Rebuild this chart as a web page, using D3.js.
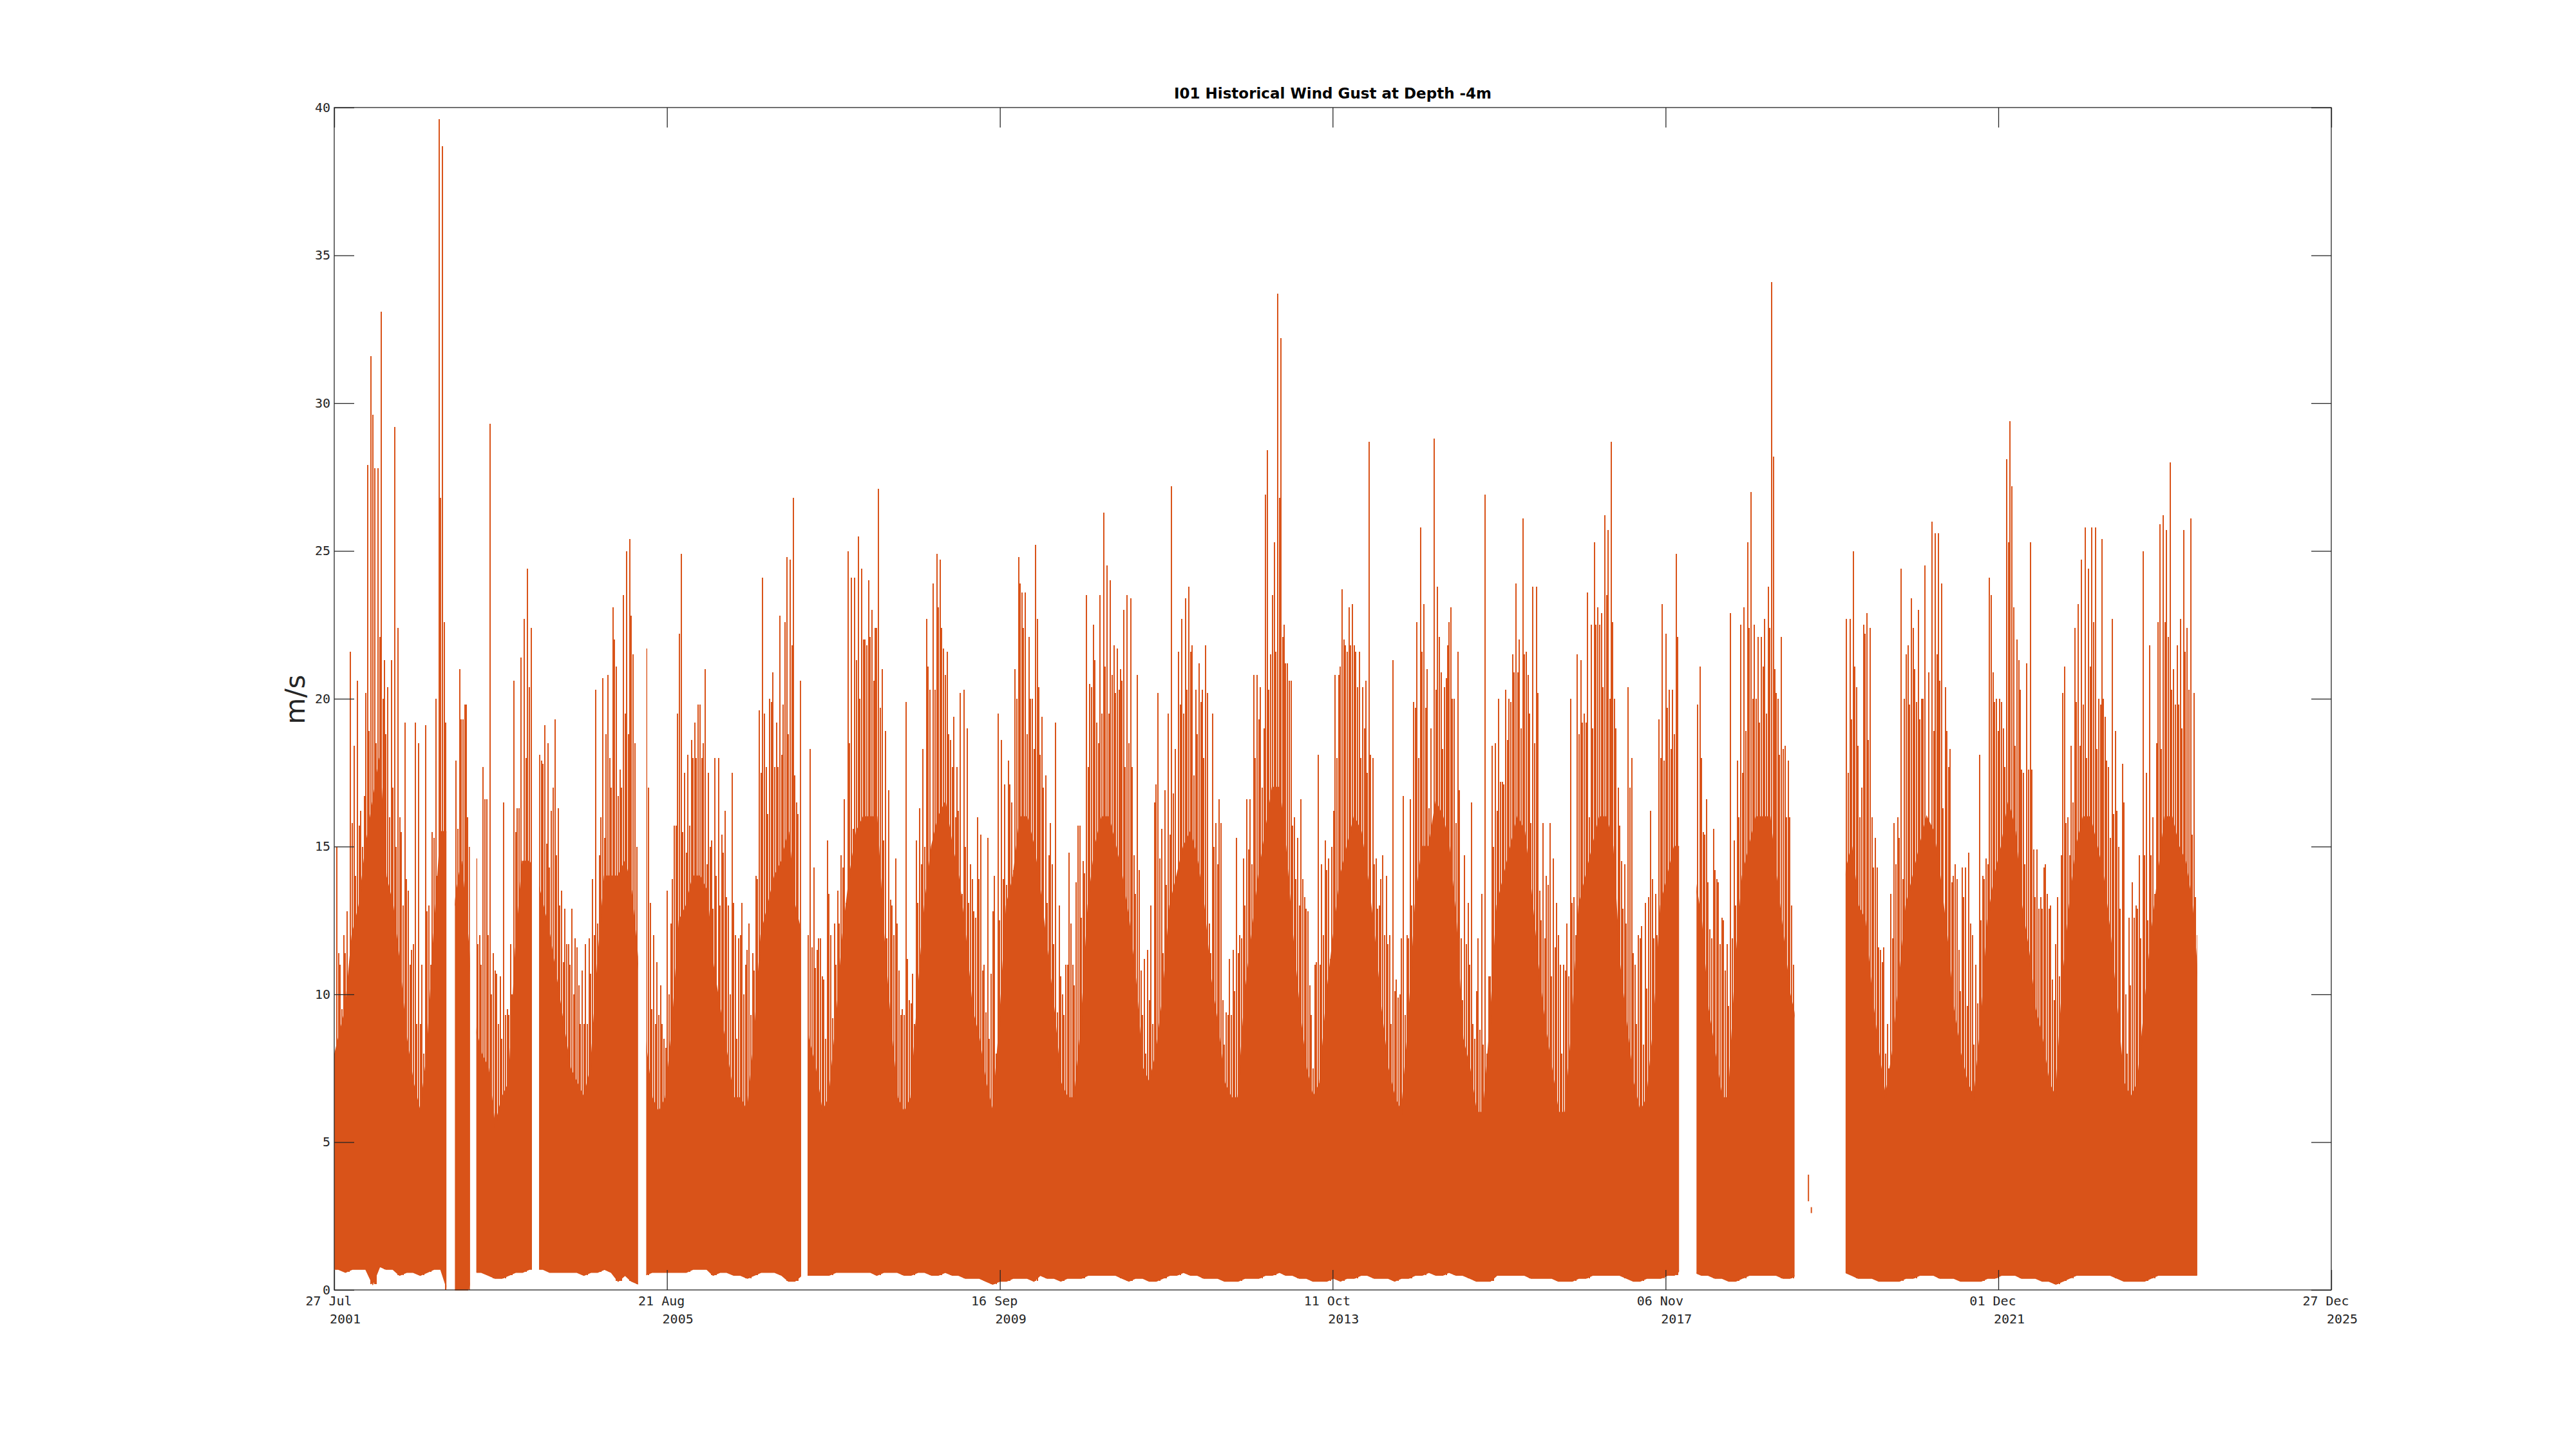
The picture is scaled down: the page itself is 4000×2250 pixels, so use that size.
<!DOCTYPE html>
<html>
<head>
<meta charset="utf-8">
<script src="https://cdn.jsdelivr.net/npm/d3@7"></script>
<style>
  body { margin: 0; background: #fff; }
  svg { display: block; }
</style>
</head>
<body>
<svg id="chart" width="4000" height="2250"></svg>
<script>
// monthly summaries, one entry per month from Jul 2001 to May 2024
// pkA / pkC / pkB / pkD = tallest gust around day 8 / 15 / 23 / 30 of the month,
// body = top of the dense band, low = bottom of the band (m/s)
const firstYear = 2001, firstMonth = 6; // July 2001

const pkA = [
  null, 15, 12, 21.6, 20.6, 16.7,
  31.6, 27.8, 21.3, 21.3, 22.4, 19.2, 11.5, 18.5, 19.1, 15.5, 39.6, 19.2,
  null, 21, 19.8, null, 12, 16.6, 11.4, 10.6, 9.5, 20.6, 21.4, 24.4,
  null, 17.9, 18.5, 19.3, 13.5, 11.7, 11.9, 10.8, 11.9, 20.3, 20.7, 18,
  21.1, 23.5, 25.4, 15, null, 13.1, 11.1, 8.5, 12.4, 19.5, 17.5, 18.6,
  19.8, 21, 15.2, 18, 16.2, 17.5, 11.9, 11, 11.4, 19.6, 17.7, 20.9,
  22.8, 24.8, 26.8, 20.6, null, 14.3, 11.9, 15.2, 12.4, 14.7, 25, 24.1,
  24.4, 24, 22.4, 21, 16.9, 14.6, 9.5, 9.8, 15.2, 18.3, 20.3, 24.9,
  21.7, 18.6, 17.7, 20.3, 14.4, 16, 11, 10.7, 19.5, 17.1, 16.5, 24.8,
  23.6, 20, 20.4, 17.4, 14.4, 13, 11, 11, 15.7, 23.5, 22.5, 23.5,
  24.5, 21.8, 21, 23.5, 14.7, 10.8, 11.5, 16.5, 15.6, 19.5, 18.3, 22.7,
  23.8, 20.3, 20.3, 12.4, 15.8, 9.8, 11.2, 15.3, 14.6, 16.6, 20.8, 19,
  21.5, 33.7, 22.5, 20.6, 15.3, 13.3, 9.3, 18.1, 15.2, 15, 20.8, 21.8,
  23.2, 21.6, 20.6, 18, 13, 14, 21.3, 10, 12, 19.9, 25.8, 21,
  28.8, 20.9, 21.8, 20, 11.9, 13.1, 8.5, 13.4, 10.6, 18.5, 17.2, 20,
  23.9, 26.1, 19.5, 23.8, 15.8, 15.8, 13.1, 11, 20, 21.5, 19.5, 22.5,
  23.1, 26.2, 28.7, 17, 14.4, 18, 12, 13.1, 13.9, 19.3, 22.2, 20.3,
  null, null, null, 21.1, 16.6, 15.6, 11.7, 11.7, 15.2, 22.5, 25.3, 22.5,
  22.1, 23.8, 21, 22.1, 17.9, 11, null, null, null, null, null, null,
  null, 22.7, 20.4, 22.5, 22.4, 14.3, 11.6, 13.4, 16, 20, 23.4, 23,
  24.5, 26, 25.6, 20.4, 13.8, 11.5, 14.3, 12, 18.1, 14.6, 20.9, 20,
  28.1, 23.1, 20.3, 21.2, 14.9, 13.3, 13.4, 9.8, 14.7, 16, 22.4, 24.7,
  24.4, 25.8, 25.4, 17.7, 18.9, 17.8, 12.6, 13, 25, 21.8, 18.5, 26.2,
  28, 21.8, 25.7, 26.1, 12
];

const pkC = [
  null, 11.4, 11.4, 15.8, 15.7, 20.2,
  29.6, 22.1, 18.8, 17, 16, 13.9, 11.7, 9, 12.8, 15.3, 26.8, null,
  null, 19.3, 16, null, 11, 12, 10.8, 8.5, 9.3, 15.5, 14.4, 20.4,
  null, 17.8, 14.3, 14.7, 11.1, 11, 11.6, 9, 10.7, 12.4, 15.3, 17,
  16.7, 19.5, 22.8, null, null, 9.5, 9.3, 8.2, 13.9, 22.2, 14.8, 18,
  19.8, 14.4, 12.9, 13, 13.3, 13.1, 12, 11.5, 10.8, 17.5, 16.1, 17.7,
  18.1, 18.8, 17.4, null, 12, 10.9, 10.6, 13.4, 11, 14.3, 18.5, 21.3,
  22, 22.1, 22.4, 15.2, 13.2, 12.4, 9.3, 9.7, 13.1, 15, 14.2, 23.1,
  20.8, 17.7, 16.2, 15, 13.9, 13.9, 9.4, 12.8, 12.5, 13.7, 14.2, 23.9,
  18.8, 18.3, 18.1, 13.1, 11.7, 10.6, 11, 10.3, 12.6, 17.7, 21.3, 19.5,
  19.5, 20.2, 20.6, 18.5, 13.4, 9.3, 9.8, 17.1, 11.4, 15.4, 12.9, 19.5,
  21.6, 18.8, 18, 11.4, 14.4, 8.3, 9.3, 11.4, 13, 14.4, 19.3, 26.9,
  23.5, 26.8, 21.2, 15.7, 13, 12.9, 7.5, 11, 14.2, 16.2, 21.1, 21.6,
  21.8, 18, 17.5, 14.4, 13.9, 11.7, 10.1, 11.9, 11.9, 19.7, 21.6, 16.3,
  20.3, 18.3, 22.6, 15.8, 9.8, 11, 10.1, 8.3, 10.6, 16.2, 17.1, 19.9,
  20.9, 21.5, 15.8, 20.2, 11.9, 10.6, 12, 10.8, 13.1, 18.8, 19.2, 19,
  22.5, 23.5, 22.6, 15.7, 12.4, 11.4, 11.9, 10.2, 11.9, 18, 19.7, 18.8,
  null, null, null, 18, 13.8, 14.2, 12.6, 9.6, 13, 17.5, 22.4, 20,
  21.1, 22.4, 20.2, 18.3, 16, null, null, null, null, null, null, null,
  null, 19.3, 18.4, 22.2, 16, 11.6, 8, 11.9, 15.3, 21.5, 22.4, 19.3,
  14.2, 18.9, 20.6, 18.9, 14, 10.1, 9.6, 8.3, 12.5, 14.4, 19.9, 19.9,
  25.3, 18.4, 17.6, 17.6, 13.3, 12.9, 12.9, 11.7, 20.2, 14.7, 19.9, 19.8,
  21.1, 18.3, 20, 15.3, 16.2, 16.5, 10.3, 12.9, 14.7, 14.7, 22.6, 22.6,
  20.3, 19.8, 21.6, 15.4, null
];

const pkB = [
  null, 11, 12.8, 18.4, 16.2, 27.9,
  27.8, 33.1, 20.4, 29.2, 15.5, 13.5, 19.2, 11, 13, 20, 38.7, null,
  17.9, 19.3, 15, 14.6, 17.7, 29.3, 10.7, 16.5, 11.7, 16.3, 22.7, 22.4,
  null, 19.1, 16.2, 16.3, 12.9, 12.9, 10.3, 11.7, 13.9, 14.7, 18.8, 23.1,
  17.6, 25, 21.5, null, 21.7, 12, 10.3, 13.5, 15.7, 24.9, 18.1, 19.2,
  18, 17.5, 18, 15.4, 13, 12, 13.1, 12.4, 14, 24.1, 20, 19.2,
  19.8, 24.7, 16.5, null, 18.3, 11.5, 10.5, 12, 13.5, 16.6, 24.1, 25.5,
  22, 23, 27.1, 18.9, 13, 10.8, 19.9, 10.7, 16.3, 22.7, 23.9, 24.7,
  21.6, 19.4, 20.2, 19, 12.8, 15.4, 15.3, 14, 18.6, 17.9, 21, 23.6,
  22.1, 25.2, 19.4, 14.7, 19.2, 10, 14.8, 13.8, 14.5, 20.5, 19.2, 26.3,
  24, 21.7, 23, 23.4, 20.8, 11.2, 13, 20.2, 16.9, 27.2, 21.6, 23.4,
  21.8, 21.2, 21.8, 19.5, 16.6, 9.4, 11.5, 12, 16.6, 20.8, 20.4, 28.4,
  25.3, 32.2, 21.2, 16, 16.6, 12.8, 11, 14.4, 14.6, 20.8, 23.7, 23.1,
  21.6, 20.4, 28.7, 14.6, 14.7, 12, 10.5, 16.7, 16.6, 22.6, 23.2, 19,
  23.8, 20.4, 23.1, 21.6, 14.7, 16.5, 11.9, 26.9, 18.4, 20, 20.3, 21.5,
  22, 21.6, 23.8, 13.5, 14, 14.6, 11, 12.4, 13.3, 21.3, 23.6, 25.3,
  22.9, 25.7, 20, 14.5, 20.4, 11, 12.3, 13.3, 13.4, 23.2, 20.3, 24.9,
  null, null, null, 15.5, 12.2, 13.9, 12.5, 22.9, 17.9, 23.1, 27, 22.1,
  22.7, 34.1, 20, 18.4, 13, null, null, null, null, null, null, null,
  22.7, 25, 16, 22.9, 14.3, 11.5, 9, 15.8, 24.4, 21.8, 21, 20,
  20.9, 25.6, 23.9, 17.7, 14.4, 14.3, 14.8, 11, 14, 24.1, 20, 19,
  29.4, 22, 17.5, 25.3, 14.9, 14.3, 13, 13.3, 21.1, 18.4, 23.2, 25.8,
  25.8, 20, 19.4, 22.7, 15, 10, 13.8, 14.7, 17.5, 16, 25.9, 25.7,
  21, 22.7, 22.4, 20.2, null
];

const pkD = [
  null, 9.5, 10.5, 14, 15, 18.9,
  18.5, 20, 16, 15, 13, 11, 9, 8, 11, 14, 22.6, null,
  15.6, 19.8, null, 11.7, 16.6, 10, 9, 9.3, 10, 16.3, 18, 18.1,
  18.1, 15.1, 17, 13, 11.7, 10, 9, 9, 12, 16, 20.8, 22,
  17, 18.8, 18.5, null, 17, 9, 9, 10, 15.7, 15.5, 15.7, 18,
  18.5, 15, 14, 14.8, 10, 8.5, 10, 9.3, 13.9, 19.5, 19.9, 17.7,
  22.6, 21.8, 16.1, null, 11.6, 11.9, 8.5, 9.2, 12.4, 13.1, 15.6, 20,
  21.8, 20.6, 19.7, 11.9, 12, 9.3, 11.2, 9, 14.4, 21.1, 20.3, 22.4,
  18.8, 16, 13.4, 13.1, 12.6, 10.8, 8.5, 8, 13.9, 17.1, 20, 22.4,
  20, 22.7, 17, 15.8, 9.4, 9.3, 12.4, 15.7, 14.1, 20.4, 18.5, 21.1,
  20.8, 20.3, 17.7, 17.7, 14.2, 8, 9, 14.6, 13.7, 16.8, 19.8, 20.3,
  17.4, 19.9, 20.2, 15, 15.8, 9.3, 10.1, 11.9, 14.9, 18, 17, 20.3,
  21.6, 22.1, 20.6, 13.9, 13.9, 10.3, 11.1, 12, 11.2, 18, 22, 21.8,
  20.4, 19, 18.1, 12.9, 12, 9, 9.9, 9.3, 13, 18, 19.7, 15.4,
  22.1, 20.7, 20, 16.9, 11.7, 9, 8.8, 8, 15, 17.2, 18.6, 20.9,
  19, 20.8, 18.5, 12.5, 13.7, 11.6, 8, 10.6, 12, 19.2, 16, 22.5,
  20.4, 20, 19, 12.9, 17, 9, 8.3, 16.2, 12, 17.9, 18.3, 22.1,
  null, null, 19.8, 15.4, 11.9, 13.8, 10.8, 11.9, 16, 18.9, 20, 19.2,
  19.5, 28.2, 18.1, 16, 11, null, null, null, null, null, null, null,
  17.5, 21.1, 17, 18.6, 15.3, 11.1, 7.5, 14.4, 13.9, 19.8, 19.9, 20,
  14.2, 21.5, 16.3, 18.3, 13.9, 13.3, 12.4, 9.7, 13.9, 23.5, 18.9, 17.7,
  27.2, 21.3, 14.4, 17.6, 12.9, 14.4, 10.5, 10.6, 15.8, 16.5, 18.4, 18,
  22.6, 19.8, 17.9, 16.1, 12.9, 8, 12.6, 11.9, 12.5, 13.4, 18.3, 22.1,
  19.8, 19, 20.3, 13.3, null
];

const body = [
  7.5, 8.5, 9.5, 12, 13, 15,
  16.5, 18, 14, 13, 11, 8.5, 7, 6, 8, 12, 15.5, 15.5,
  13, 14.5, 12, 9, 8, 7.5, 5.5, 6.5, 7, 11.5, 14.5, 14.5,
  14, 13, 12, 10.5, 9, 7.5, 7, 6.5, 7.5, 11, 14, 14,
  14, 14.5, 13.5, 11, 8.5, 6.5, 6, 6.5, 9, 12.5, 13, 14,
  14, 13.5, 11, 9.5, 8, 6.5, 6.5, 6, 8.5, 12, 13, 14,
  14.5, 15.5, 13, 12, 8.5, 7.5, 6, 6.5, 9, 12, 14, 15.5,
  16, 16, 16, 12, 9, 6.5, 6, 6.5, 10, 13, 15, 16,
  16.5, 15, 14, 12, 9.5, 8.5, 7, 6, 9, 13, 14, 16,
  16, 15, 13.5, 11.5, 9.5, 7, 6.5, 6.5, 9, 13, 15, 16,
  16, 15, 14, 12.5, 10.5, 7.5, 7, 8, 10, 13, 14, 15,
  15.5, 14.5, 13, 10.5, 9, 7, 6.5, 6.5, 10, 12, 14, 15.5,
  17, 17, 15, 12, 9.5, 7.5, 6.5, 7, 10, 12, 14, 15,
  16, 15.5, 14, 12, 9.5, 7.5, 6.5, 6, 9, 13, 15, 15,
  16.5, 16, 15, 12.5, 8.5, 7.5, 6, 6, 9, 13, 14, 15,
  16, 15.5, 13.5, 11, 9, 7.5, 6, 6, 9, 13, 14, 15,
  16, 16, 15, 11, 9, 7, 6, 6.5, 9, 13, 14, 15,
  15, 14, 14, 12.5, 9.5, 8, 6.5, 6.5, 11, 14, 15, 16,
  16, 16, 14, 12, 10, 9, null, null, null, null, null, null,
  14, 15, 13, 12.5, 10, 8, 6.5, 8, 10.5, 13, 14, 15,
  16, 15.5, 14, 12, 9.5, 8, 7, 6.5, 9, 12.5, 14, 15,
  16.5, 15.5, 13, 11.5, 9.5, 8.5, 7, 6.5, 10.5, 13, 15, 16,
  16, 15, 14, 12, 9.5, 7, 6.5, 7, 9.5, 12, 14, 16,
  16, 15, 14.5, 13, 10
];

const low = [
  0.7, 0.7, 0.6, 0.7, 0.7, 0.7,
  0.2, 0.8, 0.7, 0.7, 0.5, 0.6, 0.6, 0.5, 0.6, 0.7, 0.7, 0,
  0, 0, 0, 0.6, 0.6, 0.5, 0.4, 0.4, 0.5, 0.6, 0.6, 0.7,
  0.7, 0.7, 0.6, 0.6, 0.6, 0.6, 0.6, 0.5, 0.6, 0.6, 0.7, 0.6,
  0.3, 0.5, 0.3, 0.2, 0.5, 0.6, 0.6, 0.6, 0.6, 0.6, 0.6, 0.7,
  0.7, 0.7, 0.5, 0.6, 0.6, 0.5, 0.5, 0.4, 0.5, 0.6, 0.6, 0.6,
  0.5, 0.3, 0.3, 0.5, 0.5, 0.5, 0.5, 0.5, 0.6, 0.6, 0.6, 0.6,
  0.6, 0.6, 0.5, 0.6, 0.6, 0.6, 0.5, 0.5, 0.6, 0.6, 0.5, 0.5,
  0.6, 0.5, 0.5, 0.4, 0.4, 0.4, 0.3, 0.2, 0.3, 0.3, 0.4, 0.4,
  0.4, 0.3, 0.5, 0.4, 0.4, 0.3, 0.4, 0.4, 0.4, 0.5, 0.5, 0.5,
  0.5, 0.5, 0.4, 0.3, 0.4, 0.4, 0.3, 0.3, 0.4, 0.5, 0.5, 0.6,
  0.5, 0.5, 0.4, 0.4, 0.4, 0.3, 0.3, 0.3, 0.4, 0.4, 0.4, 0.5,
  0.5, 0.6, 0.5, 0.5, 0.4, 0.4, 0.3, 0.3, 0.3, 0.4, 0.3, 0.4,
  0.4, 0.5, 0.5, 0.4, 0.4, 0.4, 0.3, 0.4, 0.4, 0.5, 0.5, 0.6,
  0.5, 0.5, 0.6, 0.5, 0.5, 0.4, 0.3, 0.3, 0.3, 0.5, 0.5, 0.5,
  0.5, 0.5, 0.4, 0.4, 0.4, 0.4, 0.3, 0.3, 0.3, 0.4, 0.4, 0.5,
  0.5, 0.5, 0.5, 0.5, 0.4, 0.3, 0.3, 0.4, 0.4, 0.4, 0.5, 0.5,
  0.7, 0.6, 0.6, 0.5, 0.5, 0.4, 0.4, 0.3, 0.3, 0.4, 0.5, 0.5,
  0.5, 0.5, 0.5, 0.4, 0.4, 0.5, null, null, null, null, null, null,
  0.6, 0.5, 0.4, 0.4, 0.4, 0.3, 0.3, 0.3, 0.3, 0.4, 0.4, 0.5,
  0.5, 0.5, 0.4, 0.4, 0.4, 0.3, 0.3, 0.3, 0.3, 0.4, 0.4, 0.5,
  0.5, 0.5, 0.4, 0.4, 0.4, 0.3, 0.3, 0.2, 0.3, 0.4, 0.5, 0.5,
  0.5, 0.5, 0.5, 0.5, 0.4, 0.3, 0.3, 0.3, 0.3, 0.4, 0.5, 0.5,
  0.5, 0.5, 0.5, 0.5, 0.5
];

// periods with recorded data (gaps in between are empty)
const segments = [
  ["2001-07-27", "2002-12-10"],
  ["2003-01-17", "2003-03-25"],
  ["2003-04-23", "2003-12-27"],
  ["2004-01-28", "2005-04-14"],
  ["2005-05-21", "2007-04-12"],
  ["2007-05-11", "2018-01-05"],
  ["2018-03-24", "2019-06-05"],
  ["2020-01-19", "2024-05-07"]
];

// stray readings inside the 2019 gap
const strayDates = ["2019-08-06", "2019-08-19"];
const strayLow = [3.0, 2.6];
const strayHigh = [3.9, 2.8];

const tickDates = ["2001-07-27", "2005-08-21", "2009-09-16", "2013-10-11",
                   "2017-11-06", "2021-12-01", "2025-12-27"];
const yTicks = [0, 5, 10, 15, 20, 25, 30, 35, 40];

const titleText = "I01 Historical Wind Gust at Depth -4m";
const yLabel = "m/s";

const lineColor = "#D95319";
const axisColor = "#262626";

const parse = d3.utcParse("%Y-%m-%d");
const plot = { left: 519, right: 3620, top: 167, bottom: 2003 };
const tickLen = 31;

const x = d3.scaleUtc()
  .domain([parse(tickDates[0]), parse(tickDates[tickDates.length - 1])])
  .range([plot.left, plot.right]);
const y = d3.scaleLinear().domain([0, 40]).range([plot.bottom, plot.top]);

const day = (i, d) => new Date(Date.UTC(firstYear, firstMonth + i, d));

const months = body.map((b, i) => ({
  mid: day(i, 15), body: b, low: low[i],
  peaks: [[day(i, 8), pkA[i]], [day(i, 15), pkC[i]], [day(i, 23), pkB[i]], [day(i, 30), pkD[i]]]
}));

const svg = d3.select("#chart");
svg.append("rect").attr("width", 4000).attr("height", 2250).attr("fill", "#fff");

// clip to the periods that have data
const clip = svg.append("defs").append("clipPath").attr("id", "dataClip");
clip.selectAll("rect")
  .data(segments)
  .enter()
  .append("rect")
  .attr("x", d => x(parse(d[0])))
  .attr("width", d => x(parse(d[1])) - x(parse(d[0])))
  .attr("y", plot.top)
  .attr("height", plot.bottom - plot.top + 2);

const g = svg.append("g").attr("clip-path", "url(#dataClip)");

// dense band
const band = d3.area()
  .defined(d => d.body != null)
  .x(d => x(d.mid))
  .y0(d => y(d.low))
  .y1(d => y(d.body));

g.append("path")
  .datum(months)
  .attr("d", band)
  .attr("fill", lineColor)
  .attr("stroke", lineColor)
  .attr("stroke-width", 2);

// gust spikes
const spikes = [];
months.forEach(m => {
  m.peaks.forEach(([t, v]) => {
    if (v != null) spikes.push({ t: t, lo: m.low == null ? 0.5 : m.low, hi: v });
  });
});

g.selectAll("line.spike")
  .data(spikes)
  .enter()
  .append("line")
  .attr("class", "spike")
  .attr("x1", d => Math.round(x(d.t)))
  .attr("x2", d => Math.round(x(d.t)))
  .attr("y1", d => y(d.lo))
  .attr("y2", d => y(d.hi))
  .attr("stroke", lineColor)
  .attr("stroke-width", 2)
  .attr("shape-rendering", "crispEdges");

svg.selectAll("line.stray")
  .data(strayDates)
  .enter()
  .append("line")
  .attr("class", "stray")
  .attr("x1", d => x(parse(d)))
  .attr("x2", d => x(parse(d)))
  .attr("y1", (d, i) => y(strayLow[i]))
  .attr("y2", (d, i) => y(strayHigh[i]))
  .attr("stroke", lineColor)
  .attr("stroke-width", 2);

// axes, ticks pointing inward on all four sides
const tickVals = tickDates.map(parse);

function styleAxis(sel) {
  sel.select(".domain").remove();
  sel.selectAll(".tick line").attr("stroke", axisColor).attr("stroke-width", 1.3);
  sel.selectAll(".tick text")
    .attr("fill", axisColor)
    .style("font-family", "'DejaVu Sans Mono', monospace")
    .style("font-size", "20px");
}

svg.append("g")
  .attr("transform", `translate(0,${plot.bottom})`)
  .call(d3.axisBottom(x).tickValues(tickVals).tickSizeInner(-tickLen).tickSizeOuter(0).tickFormat(""))
  .call(styleAxis);

svg.append("g")
  .attr("transform", `translate(0,${plot.top})`)
  .call(d3.axisTop(x).tickValues(tickVals).tickSizeInner(-tickLen).tickSizeOuter(0).tickFormat(""))
  .call(styleAxis);

svg.append("g")
  .attr("transform", `translate(${plot.left},0)`)
  .call(d3.axisLeft(y).tickValues(yTicks).tickSizeInner(-tickLen).tickSizeOuter(0).tickPadding(6))
  .call(styleAxis);

svg.append("g")
  .attr("transform", `translate(${plot.right},0)`)
  .call(d3.axisRight(y).tickValues(yTicks).tickSizeInner(-tickLen).tickSizeOuter(0).tickFormat(""))
  .call(styleAxis);

svg.append("rect")
  .attr("x", plot.left)
  .attr("y", plot.top)
  .attr("width", plot.right - plot.left)
  .attr("height", plot.bottom - plot.top)
  .attr("fill", "none")
  .attr("stroke", axisColor)
  .attr("stroke-width", 1.3);

// two-line date labels
const fmtDay = d3.utcFormat("%d %b");
const fmtYear = d3.utcFormat("%Y");
const xLabels = svg.append("g")
  .style("font-family", "'DejaVu Sans Mono', monospace")
  .style("font-size", "20px")
  .attr("fill", axisColor)
  .attr("text-anchor", "middle");

xLabels.selectAll("text.day")
  .data(tickVals)
  .enter()
  .append("text")
  .attr("class", "day")
  .attr("x", d => x(d) - 8.5)
  .attr("y", 2027)
  .text(d => fmtDay(d));

xLabels.selectAll("text.year")
  .data(tickVals)
  .enter()
  .append("text")
  .attr("class", "year")
  .attr("x", d => x(d) + 17)
  .attr("y", 2055)
  .text(d => fmtYear(d));

svg.append("text")
  .attr("x", (plot.left + plot.right) / 2)
  .attr("y", 153)
  .attr("text-anchor", "middle")
  .style("font-family", "'DejaVu Sans', sans-serif")
  .style("font-weight", "bold")
  .style("font-size", "23px")
  .attr("fill", "#000")
  .text(titleText);

svg.append("text")
  .attr("transform", "translate(458,1086) rotate(-90)")
  .attr("text-anchor", "middle")
  .attr("dominant-baseline", "central")
  .style("font-family", "'DejaVu Sans', sans-serif")
  .style("font-size", "42px")
  .attr("fill", axisColor)
  .text(yLabel);
</script>
</body>
</html>
